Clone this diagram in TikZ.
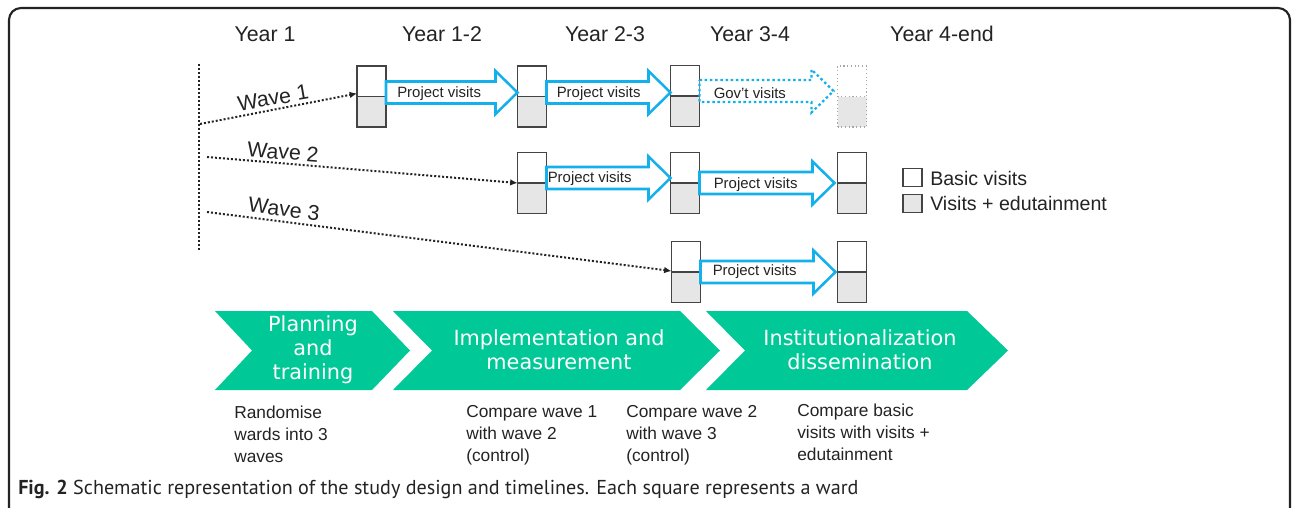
\documentclass[tikz,border=0pt]{standalone}
\usepackage{fontspec}
\setmainfont{Liberation Sans}
\newfontfamily\chevfont{DejaVu Sans}
\newfontfamily\capfont{PT Sans}
\usetikzlibrary{calc,arrows.meta}
\definecolor{chev}{RGB}{0,201,151}
\definecolor{arrowblue}{RGB}{20,176,236}
\definecolor{wardgray}{RGB}{230,230,230}
\definecolor{ink}{RGB}{35,35,35}
\tikzset{
  ward/.style={draw=ink!85, line width=1pt, fill=white, minimum width=21.75pt, minimum height=45.75pt,
    inner sep=0pt, outer sep=0pt,
    path picture={\fill[wardgray] (path picture bounding box.west) rectangle (path picture bounding box.south east);
      \draw[ink!85, line width=1pt] (path picture bounding box.west) -- (path picture bounding box.east);}},
  ghostward/.style={draw=gray!70, line width=0.8pt, dotted, fill=white, minimum width=21.75pt, minimum height=45.75pt,
    inner sep=0pt, outer sep=0pt,
    path picture={\fill[wardgray] (path picture bounding box.west) rectangle (path picture bounding box.south east);
      \draw[gray!70, line width=0.8pt, dotted] (path picture bounding box.west) -- (path picture bounding box.east);}},
  barrowst/.style={draw=arrowblue, line width=1.9pt, fill=white, line join=miter},
  ghostarrow/.style={dotted, line width=1.7pt},
  arrowtext/.style={font=\fontsize{11.2pt}{13pt}\selectfont, text=ink, inner sep=0pt, anchor=west},
  yearlab/.style={font=\fontsize{16pt}{19pt}\selectfont, text=ink, inner sep=0pt},
  wavelab/.style={font=\fontsize{16pt}{19pt}\selectfont, text=ink, inner sep=0pt},
  dotline/.style={draw=ink, line width=1.5pt, dash pattern=on 1.5pt off 1.5pt},
  waveline/.style={dotline, -{Latex[length=5.5pt,width=5pt]}},
  legbox/.style={draw=ink!85, line width=1pt, minimum width=14.25pt, minimum height=13.5pt, inner sep=0pt},
  legtext/.style={font=\fontsize{14.7pt}{17pt}\selectfont, text=ink, inner sep=0pt, anchor=west},
  chevtext/.style={font=\chevfont\fontsize{15.6pt}{18pt}\selectfont, text=white, align=center, inner sep=0pt},
  notetext/.style={font=\fontsize{13pt}{16.5pt}\selectfont, text=ink, align=left, inner sep=0pt, anchor=north west},
}
% #1 options, #2 from node, #3 to node, #4 vertical offset, #5 gap before target
\newcommand\barrow[5][]{%
  \draw[barrowst,#1] ($(#2.east)+(0,#4-11)$) -- ($(#2.east -| #3.west)+(-22-#5,#4-11)$)
    -- ($(#2.east -| #3.west)+(-22-#5,#4-21.5)$) -- ($(#2.east -| #3.west)+(-#5,#4)$)
    -- ($(#2.east -| #3.west)+(-22-#5,#4+21.5)$) -- ($(#2.east -| #3.west)+(-22-#5,#4+11)$)
    -- ($(#2.east)+(0,#4+11)$) -- cycle;}
\begin{document}
\begin{tikzpicture}[x=0.75pt,y=-0.75pt]
\useasboundingbox (0,0) rectangle (1292,507);
\begin{scope}
\clip (0,0) rectangle (1292,507);
\draw[ink, line width=1.6pt, rounded corners=9pt] (9,530) -- (9,8) -- (1290,8) -- (1290,530);
\end{scope}

% year labels
\node[yearlab] (y1) at (265,34) {Year 1};
\node[yearlab] (y2) at (442,34) {Year 1-2};
\node[yearlab] (y3) at (605,34) {Year 2-3};
\node[yearlab] (y4) at (750,34) {Year 3-4};
\node[yearlab] (y5) at (942,34) {Year 4-end};

% wards
\node[ward] (w11) at (371.5,96.5) {};
\node[ward] (w12) at (532,96.5) {};
\node[ward] (w13) at (685,96) {};
\node[ghostward] (w14) at (852,96.5) {};
\node[ward] (w22) at (532,183) {};
\node[ward] (w23) at (685,183) {};
\node[ward] (w24) at (852,183) {};
\node[ward] (w33) at (686,272) {};
\node[ward] (w34) at (852,272) {};

% block arrows
\barrow{w11}{w12}{-4}{0}
\barrow{w12}{w13}{-4}{0}
\barrow[ghostarrow]{w13}{w14}{-5}{4}
\barrow{w22}{w23}{-5}{0}
\barrow{w23}{w24}{0}{3}
\barrow{w33}{w34}{0}{2}

\node[arrowtext] (t1) at ($(w11.east)+(11,-3)$) {Project visits};
\node[arrowtext] (t2) at ($(w12.east)+(10,-3)$) {Project visits};
\node[arrowtext] (t3) at ($(w13.east)+(14,-3)$) {Gov't visits};
\node[arrowtext] (t4) at ($(w22.east)+(1,-4)$) {Project visits};
\node[arrowtext] (t5) at ($(w23.east)+(14,1.5)$) {Project visits};
\node[arrowtext] (t6) at ($(w33.east)+(12,0)$) {Project visits};

% wave lines
\coordinate (vtop) at (199,64);
\coordinate (vbot) at (199,250);
\draw[dotline] (vtop) -- (vbot);
\coordinate (s1) at (200,124);
\coordinate (s2) at (207,157);
\coordinate (s3) at (207,212);
\draw[waveline] (s1) -- ($(w11.west)+(0,-3)$);
\draw[waveline] (s2) -- (w22.west);
\draw[waveline] (s3) -- ($(w33.west)+(0,-1)$);
\node[wavelab, rotate=10] (wl1) at (273,98) {Wave 1};
\node[wavelab, rotate=-4.5] (wl2) at (283,152) {Wave 2};
\node[wavelab, rotate=-7] (wl3) at (284,209) {Wave 3};

% legend
\node[legbox, fill=white] (lb1) at (912.5,177.5) {};
\node[legbox, fill=wardgray] (lb2) at (912.5,203.5) {};
\node[legtext] (lt1) at (930,178) {Basic visits};
\node[legtext] (lt2) at (930,203) {Visits + edutainment};

% chevrons
\fill[chev] (215,311) -- (372,311) -- (410,350.5) -- (372,390) -- (215,390) -- (252,350.5) -- cycle;
\fill[chev] (393,311) -- (680,311) -- (720,350.5) -- (680,390) -- (393,390) -- (432,350.5) -- cycle;
\fill[chev] (706,311) -- (967,311) -- (1008,350.5) -- (967,390) -- (706,390) -- (745,350.5) -- cycle;
\node[chevtext] (c1) at (313,350) {Planning\\and\\training};
\node[chevtext] (c2) at (559,350) {Implementation and\\measurement};
\node[chevtext] (c3) at (860,350) {Institutionalization\\dissemination};

% notes
\node[notetext] (n1) at (234,405.5) {Randomise\\wards into 3\\waves};
\node[notetext] (n2) at (466,405.5) {Compare wave 1\\with wave 2\\(control)};
\node[notetext] (n3) at (626,405.5) {Compare wave 2\\with wave 3\\(control)};
\node[notetext] (n4) at (797,403.5) {Compare basic\\visits with visits +\\edutainment};

% caption
\node[anchor=west, inner sep=0pt, text=ink, font=\capfont\fontsize{15.1pt}{18pt}\selectfont] (cap) at (18,489)
  {\textbf{Fig. 2} Schematic representation of the study design and timelines. Each square represents a ward};
\end{tikzpicture}
\end{document}
